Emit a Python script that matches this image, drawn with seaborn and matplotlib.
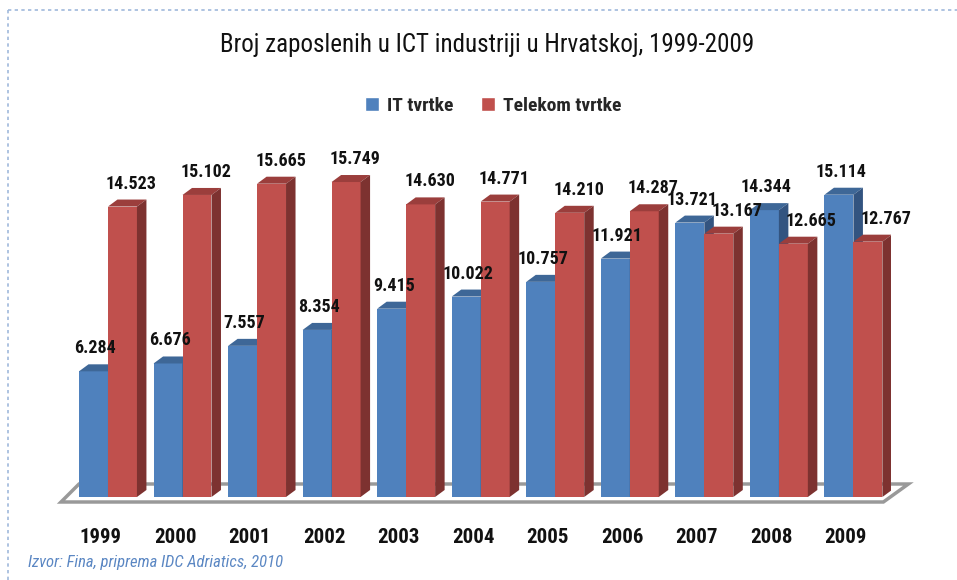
"""
Broj zaposlenih u ICT industriji u Hrvatskoj, 1999-2009 (3D-style clustered bars)
"""
import matplotlib
matplotlib.use('Agg')
import matplotlib.pyplot as plt
from matplotlib import font_manager as fm
from matplotlib.patches import Polygon, Patch
from matplotlib.lines import Line2D
import matplotlib.transforms as mtransforms
import pandas as pd
import seaborn as sns

years = ['1999', '2000', '2001', '2002', '2003', '2004', '2005', '2006', '2007', '2008', '2009']
it_firms = [6284, 6676, 7557, 8354, 9415, 10022, 10757, 11921, 13721, 14344, 15114]
telecom_firms = [14523, 15102, 15665, 15749, 14630, 14771, 14210, 14287, 13167, 12665, 12767]
series = ['IT tvrtke', 'Telekom tvrtke']

BLUE, BLUE_TOP, BLUE_SIDE = '#4f81bd', '#3e6797', '#335480'
RED, RED_TOP, RED_SIDE = '#c0504d', '#9b3e3c', '#7d3230'


def pick_font():
    # the original uses a narrow face; take whatever condensed font is around
    ents = fm.fontManager.ttflist
    for want in ['Liberation Sans Narrow', 'Roboto Condensed', 'Open Sans Condensed',
                 'Noto Sans Condensed', 'DejaVu Sans Condensed']:
        if any(e.name == want for e in ents):
            return want, 'normal'
    for fam in ['Noto Sans', 'Open Sans', 'DejaVu Sans', 'Roboto']:
        if any(e.name == fam and 'condensed' in str(e.stretch) for e in ents):
            return fam, 'condensed'
    return 'DejaVu Sans', 'normal'


df = pd.DataFrame({
    'godina': years * 2,
    'zaposleni': it_firms + telecom_firms,
    'vrsta': [series[0]] * len(years) + [series[1]] * len(years),
})

sns.set_style('white')
FAM, STRETCH = pick_font()
plt.rcParams['font.family'] = [FAM, 'DejaVu Sans']
plt.rcParams['font.stretch'] = STRETCH

fig = plt.figure(figsize=(9.57, 5.8), dpi=100)
ax = fig.add_axes([70.7 / 957, 83 / 580, 820 / 957, 350 / 580])

sns.barplot(data=df, x='godina', y='zaposleni', hue='vrsta', hue_order=series,
            palette=[BLUE, RED], width=0.777, saturation=1, legend=False,
            linewidth=0, ax=ax)
ax.set_xlim(-0.5, len(years) - 0.5)
ax.set_ylim(0, 17500)

# pixel -> data conversion for the fake depth
px_x = ax.bbox.width / (len(years))
px_y = ax.bbox.height / 17500
dx = 9.5 / px_x
dy = 7 / px_y

faces = [(BLUE_TOP, BLUE_SIDE, 2), (RED_TOP, RED_SIDE, 3)]
for k, cont in enumerate(ax.containers):
    top_c, side_c, z = faces[k]
    for i, p in enumerate(cont.patches):
        p.set_zorder(z)
        x0, w, h = p.get_x(), p.get_width(), p.get_height()
        ax.add_patch(Polygon([(x0, h), (x0 + dx, h + dy), (x0 + w + dx, h + dy), (x0 + w, h)],
                             closed=True, facecolor=top_c, lw=0, zorder=z + 0.1))
        ax.add_patch(Polygon([(x0 + w, 0), (x0 + w + dx, dy), (x0 + w + dx, h + dy), (x0 + w, h)],
                             closed=True, facecolor=side_c, lw=0, zorder=z + 0.1))
        if k == 0:
            off = 2
        else:
            # excel pushes the label right when the blue bar sticks out above
            off = 9 + (9 if telecom_firms[i] < it_firms[i] else 0)
        ax.annotate(f'{int(h):,}'.replace(',', '.'), xy=(x0 + w / 2, h),
                    xytext=(off, 23), textcoords='offset pixels',
                    ha='center', va='center', fontsize=13, fontweight='bold',
                    color='#111111', zorder=5)

# floor slab
first = ax.containers[0].patches[0]
last = ax.containers[1].patches[-1]
fl, fr = first.get_x(), last.get_x() + last.get_width()
floor = [(fl - 18 / px_x, -5 / px_y), (fr + 1 / px_x, -5 / px_y),
         (fr + 26 / px_x, 13 / px_y), (fl, 13 / px_y)]
ax.add_patch(Polygon(floor, closed=True, facecolor='white', edgecolor='#999999',
                     lw=2.5, zorder=1, clip_on=False))

ax.set_xlabel('')
ax.set_ylabel('')
ax.set_yticks([])
sns.despine(ax=ax, left=True, bottom=True)
ax.tick_params(axis='x', length=0, pad=22, labelsize=15, labelcolor='#111111')
shift = mtransforms.ScaledTranslation(-7.5 / 100, 0, fig.dpi_scale_trans)
for t in ax.get_xticklabels():
    t.set_fontweight('bold')
    t.set_transform(t.get_transform() + shift)

fig.text(487 / 957, 1 - 45 / 580, 'Broj zaposlenih u ICT industriji u Hrvatskoj, 1999-2009',
         ha='center', va='center', fontsize=18, color='#111111')

handles = [Patch(facecolor=BLUE, label=series[0]), Patch(facecolor=RED, label=series[1])]
fig.legend(handles=handles, loc='center', bbox_to_anchor=(493 / 957, 1 - 106 / 580),
           ncol=2, frameon=False, handlelength=0.75, handleheight=0.75,
           handletextpad=0.4, columnspacing=1.4,
           prop={'family': [FAM, 'DejaVu Sans'], 'stretch': STRETCH, 'weight': 'bold', 'size': 14})

fig.text(28 / 957, 1 - 563 / 580, 'Izvor: Fina, priprema IDC Adriatics, 2010',
         ha='left', va='center', fontsize=12, style='italic', color='#5b87c3')

# dashed frame (top and left edges)
fig.add_artist(Line2D([8 / 957, 1], [1 - 10 / 580] * 2, transform=fig.transFigure,
                      color='#9fb9dc', lw=1.2, ls=(0, (2, 2))))
fig.add_artist(Line2D([8 / 957] * 2, [0, 1 - 10 / 580], transform=fig.transFigure,
                      color='#9fb9dc', lw=1.2, ls=(0, (2, 2))))

fig.savefig('out.png', dpi=100)
